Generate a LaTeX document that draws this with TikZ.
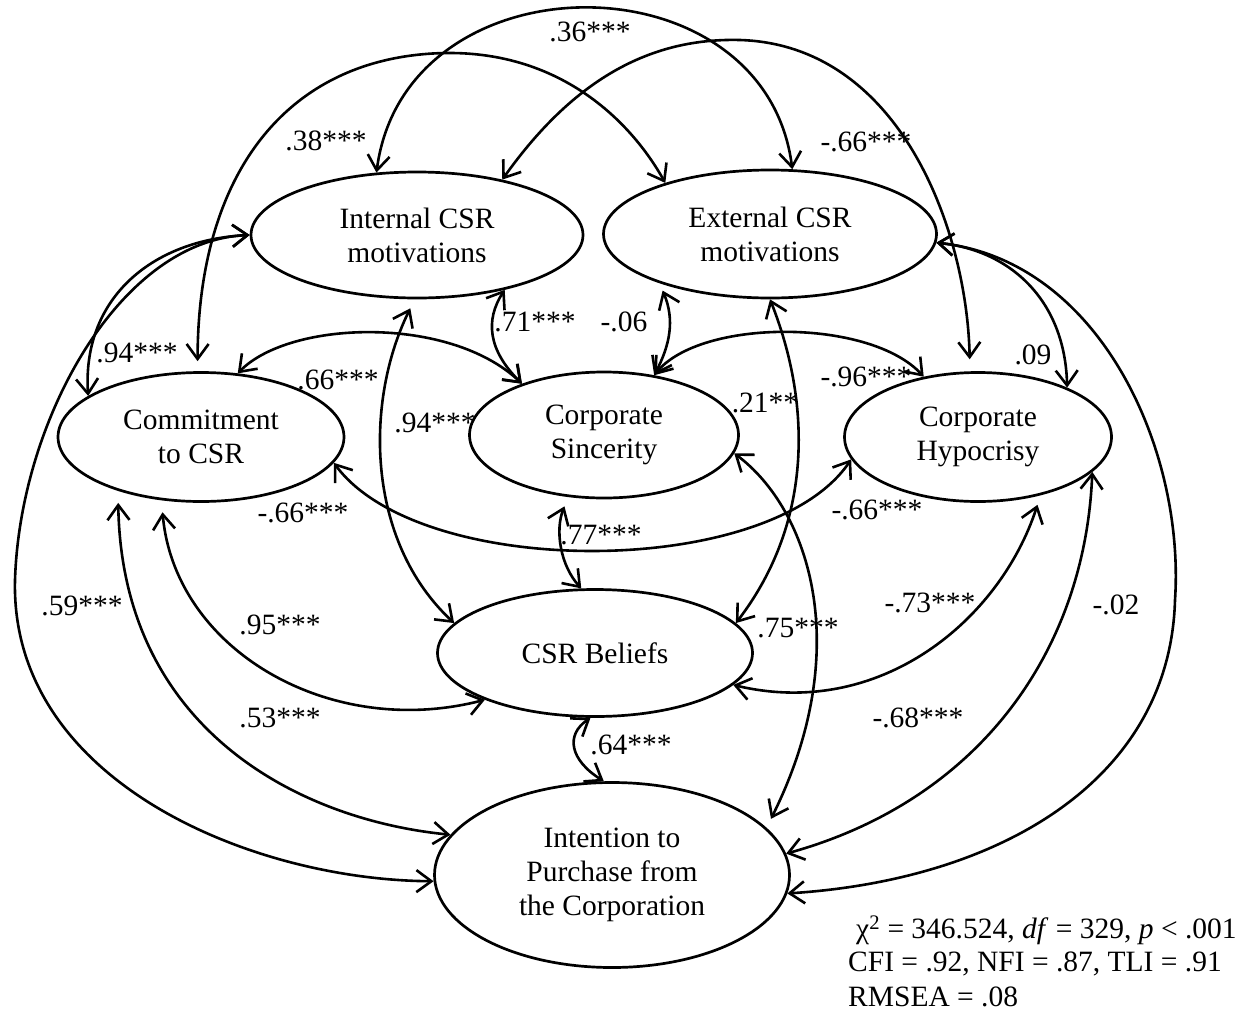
\documentclass[tikz,border=0pt]{standalone}
\usepackage{fontspec}
\setmainfont{Liberation Serif}
\usetikzlibrary{shapes.geometric,arrows.meta}
\begin{document}
\begin{tikzpicture}[x=1pt,y=-1pt,
  lat/.style={draw, ellipse, line width=2.7pt, inner sep=0pt, align=center, font=\fontsize{29.5}{34}\selectfont},
  cov/.style={line width=2.6pt, >={Straight Barb[length=15pt,width=22pt]}, <->},
  lab/.style={font=\fontsize{29.5}{33}\selectfont, inner sep=0pt},
]
\useasboundingbox (0,0) rectangle (1244,1012);
% latent variables
\node[lat, minimum width=332pt, minimum height=126pt] (int) at (417,235) {Internal CSR\\motivations};
\node[lat, minimum width=333pt, minimum height=128pt] (ext) at (770,234) {External CSR\\motivations};
\node[lat, minimum width=286pt, minimum height=129pt] (com) at (201,437) {Commitment\\to CSR};
\node[lat, minimum width=269pt, minimum height=126pt] (sin) at (604,435) {Corporate\\Sincerity};
\node[lat, minimum width=267pt, minimum height=129pt] (hyp) at (978,437) {Corporate\\Hypocrisy};
\node[lat, minimum width=315pt, minimum height=127pt] (bel) at (595,653) {CSR Beliefs};
\node[lat, minimum width=355pt, minimum height=185pt] (pur) at (612,875) {Intention to\\Purchase from\\the Corporation};
% covariances
\draw[cov] (int.123) .. controls (405,-46) and (765,-46) .. (ext.71);
\draw[cov, shorten <=10pt] (com.93) .. controls (198,170) and (290,55) .. (447,53) .. controls (560,52) and (630,120) .. (ext.154);
\draw[cov, shorten >=12pt] (int.33) .. controls (580,70) and (660,38) .. (740,40) .. controls (900,45) and (967,230) .. (hyp.97);
\draw[cov] (com.160) .. controls (82,300) and (150,240) .. (int.west);
\draw[cov] (int.west) .. controls (120,240) and (20,420) .. (15,580) .. controls (10,780) and (250,880) .. (pur.182);
\draw[cov, shorten <=12pt] (com.213) .. controls (122,730) and (300,820) .. (pur.166);
\draw[cov, shorten <=12pt] (com.238) .. controls (175,650) and (330,740) .. (bel.203);
\draw[cov] (com.60) .. controls (290,320) and (450,315) .. (sin.148);
\draw[cov] (int.328) .. controls (485,320) and (488,350) .. (sin.148);
\draw[cov, shorten <=8pt] (ext.204) .. controls (675,320) and (670,345) .. (sin.50);
\draw[cov] (sin.50) .. controls (700,318) and (870,318) .. (hyp.132);
\draw[cov, shorten <=10pt] (int.268) .. controls (365,400) and (365,540) .. (bel.168);
\draw[cov] (ext.270) .. controls (810,400) and (815,520) .. (bel.12);
\draw[cov, shorten >=10pt] (sin.352) .. controls (810,510) and (855,650) .. (pur.17);
\draw[cov] (com.349) .. controls (420,580) and (770,580) .. (hyp.190);
\draw[cov, shorten <=10pt] (sin.240) .. controls (555,530) and (560,565) .. (bel.102);
\draw[cov] (bel.266) .. controls (565,735) and (570,760) .. (pur.95);
\draw[cov, shorten <=10pt] (hyp.317) .. controls (1000,620) and (880,720) .. (bel.347);
\draw[cov] (hyp.343) .. controls (1085,650) and (980,800) .. (pur.7);
\draw[cov] (ext.357) .. controls (1100,260) and (1185,450) .. (1175,600) .. controls (1170,780) and (1000,880) .. (pur.354);
\draw[cov] (ext.357) .. controls (1010,250) and (1065,300) .. (hyp.29);
% labels
\node[lab] (l1) at (590,32) {.36***};
\node[lab] (l2) at (326,141) {.38***};
\node[lab] (l3) at (866,142) {-.66***};
\node[lab] (l4) at (137,353) {.94***};
\node[lab] (l5) at (82,606) {.59***};
\node[lab] (l6) at (280,718) {.53***};
\node[lab] (l7) at (280,625) {.95***};
\node[lab] (l8) at (338,380) {.66***};
\node[lab] (l9) at (535,322) {.71***};
\node[lab] (l10) at (624,322) {-.06};
\node[lab] (l11) at (866,377) {-.96***};
\node[lab] (l12) at (435,423) {.94***};
\node[lab] (l13) at (765,403) {.21**};
\node[lab] (l14) at (798,628) {.75***};
\node[lab] (l15) at (303,513) {-.66***};
\node[lab] (l16) at (877,510) {-.66***};
\node[lab] (l17) at (601,535) {.77***};
\node[lab] (l18) at (631,745) {.64***};
\node[lab] (l19) at (930,603) {-.73***};
\node[lab] (l20) at (918,718) {-.68***};
\node[lab] (l21) at (1116,605) {-.02};
\node[lab] (l22) at (1033,355) {.09};
% fit statistics
\node[lab, anchor=west] (st1) at (856,930) {χ\textsuperscript{2} = 346.524, \textit{df} = 329, \textit{p} < .001};
\node[lab, anchor=west] (st2) at (848,964) {CFI = .92, NFI = .87, TLI = .91};
\node[lab, anchor=west] (st3) at (848,997) {RMSEA = .08};
\end{tikzpicture}
\end{document}
